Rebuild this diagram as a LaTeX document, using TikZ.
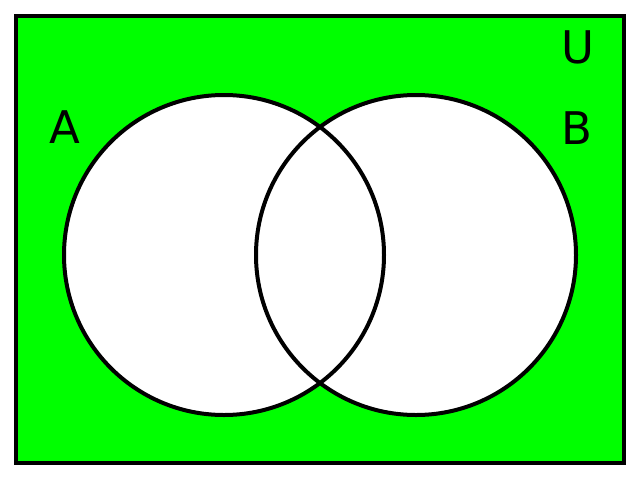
\documentclass[tikz,border=0pt]{standalone}
\usepackage{fontspec}
\setmainfont{DejaVu Sans}
\begin{document}
\begin{tikzpicture}[x=1pt,y=-1pt,
  setline/.style={line width=4pt,draw=black},
  lbl/.style={font=\fontsize{45}{45}\selectfont,inner sep=0pt}]
\useasboundingbox (0,0) rectangle (640,480);
\fill[white] (0,0) rectangle (640,480);
\filldraw[fill=green,setline] (16,16) rectangle (624,463);
\fill[white] (224,255) circle (160);
\fill[white] (416,255) circle (160);
\draw[setline] (224,255) circle (160);
\draw[setline] (416,255) circle (160);
\node[lbl] (A) at (65,127) {A};
\node[lbl] (B) at (577,128) {B};
\node[lbl] (U) at (578,47) {U};
\end{tikzpicture}
\end{document}
